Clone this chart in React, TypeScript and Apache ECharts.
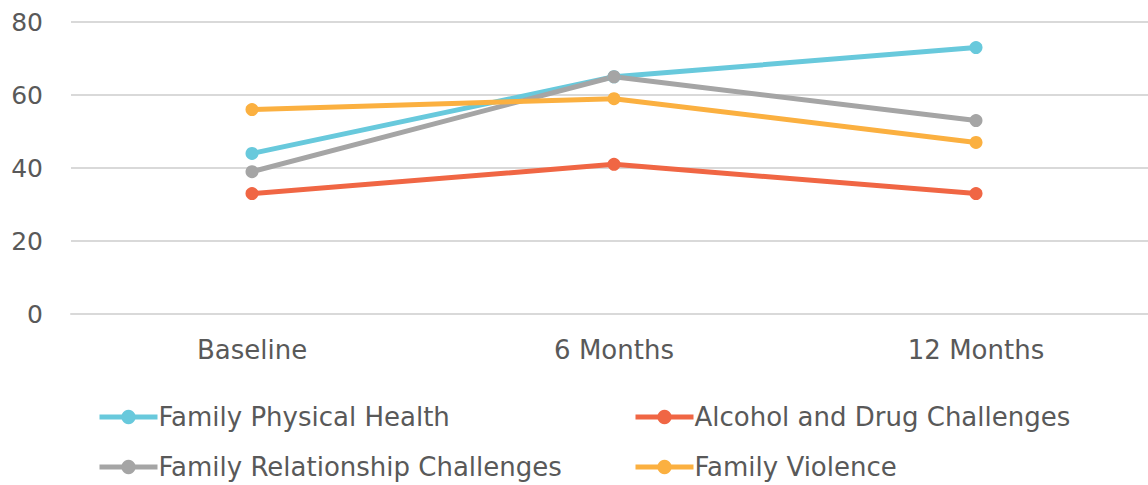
import React, { useEffect, useRef } from "react";
import * as echarts from "echarts";

const categories = ["Baseline", "6 Months", "12 Months"];
const physicalHealth = [44, 65, 73];
const alcoholDrug = [33, 41, 33];
const relationship = [39, 65, 53];
const violence = [56, 59, 47];
const yTicks = { min: 0, max: 80, interval: 20 };

const FONT = "'DejaVu Sans', sans-serif";
const TEXT = "#595959";

export default function App() {
  const ref = useRef<HTMLDivElement>(null);
  useEffect(() => {
    if (!ref.current) return;
    const chart = echarts.init(ref.current, undefined, { renderer: "svg" });
    const mk = (name: string, data: number[], color: string) => ({
      name,
      type: "line",
      data,
      color,
      symbol: "circle",
      symbolSize: 13,
      lineStyle: { width: 5, color },
      itemStyle: { color },
    });
    const legendCommon = {
      orient: "vertical",
      top: 404,
      padding: 0,
      itemWidth: 58,
      itemHeight: 18,
      itemGap: 24,
      lineStyle: { width: 5 },
      textStyle: { fontFamily: FONT, fontSize: 26, color: TEXT, padding: [0, 0, 0, -4] },
    };
    chart.setOption({
      animation: false,
      textStyle: { fontFamily: FONT },
      grid: { left: 71, right: 0, top: 22, height: 292, containLabel: false },
      xAxis: {
        type: "category",
        data: categories,
        boundaryGap: true,
        axisLine: { lineStyle: { color: "#d9d9d9", width: 2 } },
        axisTick: { show: false },
        axisLabel: { color: TEXT, fontSize: 26, fontFamily: FONT, margin: 23 },
      },
      yAxis: {
        type: "value",
        min: yTicks.min,
        max: yTicks.max,
        interval: yTicks.interval,
        axisLine: { show: false },
        axisTick: { show: false },
        splitLine: { lineStyle: { color: "#d9d9d9", width: 2 } },
        axisLabel: { color: TEXT, fontSize: 25, fontFamily: FONT, margin: 28 },
      },
      legend: [
        { ...legendCommon, left: 97, data: ["Family Physical Health", "Family Relationship Challenges"] },
        { ...legendCommon, left: 633, data: ["Alcohol and Drug Challenges", "Family Violence"] },
      ],
      series: [
        mk("Family Physical Health", physicalHealth, "#68c9dc"),
        mk("Alcohol and Drug Challenges", alcoholDrug, "#f06644"),
        mk("Family Relationship Challenges", relationship, "#a5a5a5"),
        mk("Family Violence", violence, "#fbb040"),
      ],
    });
    return () => chart.dispose();
  }, []);
  return (
    <div style={{ position: "absolute", left: 0, top: 0, width: 1148, height: 485, overflow: "hidden" }}>
      <div ref={ref} style={{ width: 1157, height: 485 }} />
    </div>
  );
}
